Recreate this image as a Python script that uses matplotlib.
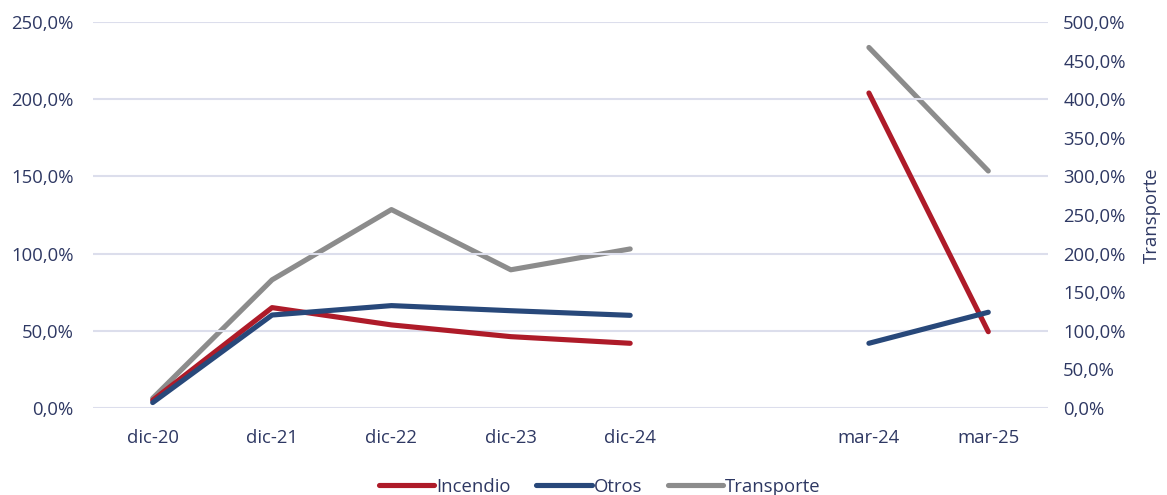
import numpy as np
import matplotlib.pyplot as plt
from matplotlib.ticker import FuncFormatter

plt.rcParams['font.family'] = ['Open Sans', 'DejaVu Sans']

# datos (la categoría vacía separa los cierres anuales de los trimestres)
categorias = ['dic-20', 'dic-21', 'dic-22', 'dic-23', 'dic-24', '', 'mar-24', 'mar-25']
incendio = [5.0, 65.0, 53.8, 46.2, 41.9, np.nan, 204.0, 49.4]
otros = [3.5, 60.2, 66.3, 63.0, 60.0, np.nan, 41.9, 62.0]
transporte = [12.6, 166.0, 257.0, 179.0, 206.0, np.nan, 467.0, 307.0]

c_inc = '#AE1B29'
c_otr = '#28487A'
c_tra = '#8C8C8C'
c_txt = '#2E3863'
c_grid = '#DCDEEC'
fs = 13.3

fig = plt.figure(figsize=(11.67, 4.95), dpi=100)
ax = fig.add_axes([0.0797, 0.1758, 0.8183, 0.7798])
ax2 = ax.twinx()

x = np.arange(len(categorias))
l1, = ax.plot(x, incendio, color=c_inc, lw=3.7, solid_capstyle='round', label='Incendio', zorder=3)
l2, = ax.plot(x, otros, color=c_otr, lw=3.7, solid_capstyle='round', label='Otros', zorder=3)
l3, = ax2.plot(x, transporte, color=c_tra, lw=3.7, solid_capstyle='round', label='Transporte')

ax.set_zorder(ax2.get_zorder() + 1)
ax.patch.set_visible(False)

pct = FuncFormatter(lambda v, p: f'{v:.1f}'.replace('.', ',') + '%')

ax.set_xlim(-0.5, 7.5)
ax.set_ylim(0, 250)
ax.set_yticks(np.arange(0, 251, 50))
ax.yaxis.set_major_formatter(pct)
ax2.set_ylim(0, 500)
ax2.set_yticks(np.arange(0, 501, 50))
ax2.yaxis.set_major_formatter(pct)

ax.set_xticks(x)
ax.set_xticklabels(categorias)
ax.grid(axis='y', color=c_grid, lw=1.5)
ax.set_axisbelow(True)

for a in (ax, ax2):
    for s in a.spines.values():
        s.set_visible(False)
    a.tick_params(length=0, labelsize=fs, labelcolor=c_txt)
ax.tick_params(axis='y', pad=14)
ax.tick_params(axis='x', pad=15)
ax2.tick_params(axis='y', pad=11)

ax2.set_ylabel('Transporte', color=c_txt, fontsize=fs, labelpad=12)

fig.legend(handles=[l1, l2, l3], loc='lower center', bbox_to_anchor=(0.514, -0.035),
           ncol=3, frameon=False, fontsize=fs, labelcolor=c_txt,
           handlelength=3.0, handletextpad=0.1, columnspacing=1.4)

fig.savefig('out.png', dpi=100)
